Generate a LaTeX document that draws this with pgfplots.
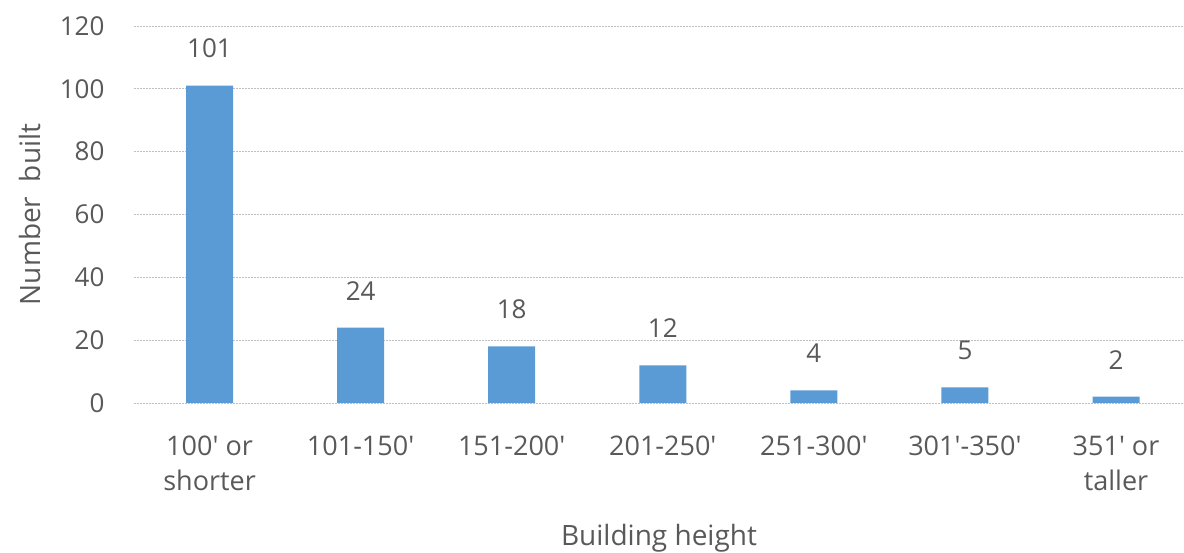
\documentclass[border=0pt]{standalone}
\usepackage{pgfplots}
\pgfplotsset{compat=1.18}
\usepackage{fontspec}
\setmainfont{Open Sans}[Ligatures=TeXOff]
\definecolor{barblue}{HTML}{5B9BD5}
\definecolor{txt}{HTML}{595959}
\definecolor{gridc}{HTML}{BFBFBF}
\begin{document}
\begin{tikzpicture}[x=1pt,y=1pt]
\useasboundingbox (0,0) rectangle (1184,553);
\begin{axis}[
  at={(134pt,150pt)}, anchor=south west,
  scale only axis, width=1050pt, height=377pt,
  xmin=-0.5, xmax=6.45, ymin=0, ymax=120,
  ytick={0,20,...,120},
  xtick={0,...,6},
  xticklabels={{100' or\\shorter},{101-150'},{151-200'},{201-250'},{251-300'},{301'-350'},{351' or\\taller}},
  axis line style={draw=none},
  major tick length=0pt,
  ymajorgrids, grid style={gridc, dash pattern=on 2pt off 1pt, line width=0.8pt},
  /pgf/number format/assume math mode=true,
  tick label style={font=\fontsize{26}{35}\selectfont, text=txt},
  xticklabel style={align=center, anchor=north, yshift=-29pt, font=\fontsize{27}{35}\selectfont},
  yticklabel style={anchor=east, xshift=-26pt},
  ylabel={Number\ \ built}, xlabel={Building height},
  label style={font=\fontsize{28}{32}\selectfont, text=txt},
  every axis y label/.append style={at={(ticklabel cs:0.5)}, anchor=south, yshift=12pt},
  xlabel style={yshift=-27pt},
  nodes near coords,
  every node near coord/.append style={font=\fontsize{26}{30}\selectfont, text=txt, yshift=24pt},
]
\addplot[ybar, bar width=47pt, fill=barblue, draw=none] coordinates {(0,101) (1,24) (2,18) (3,12) (4,4) (5,5) (6,2)};
\end{axis}
\end{tikzpicture}
\end{document}
